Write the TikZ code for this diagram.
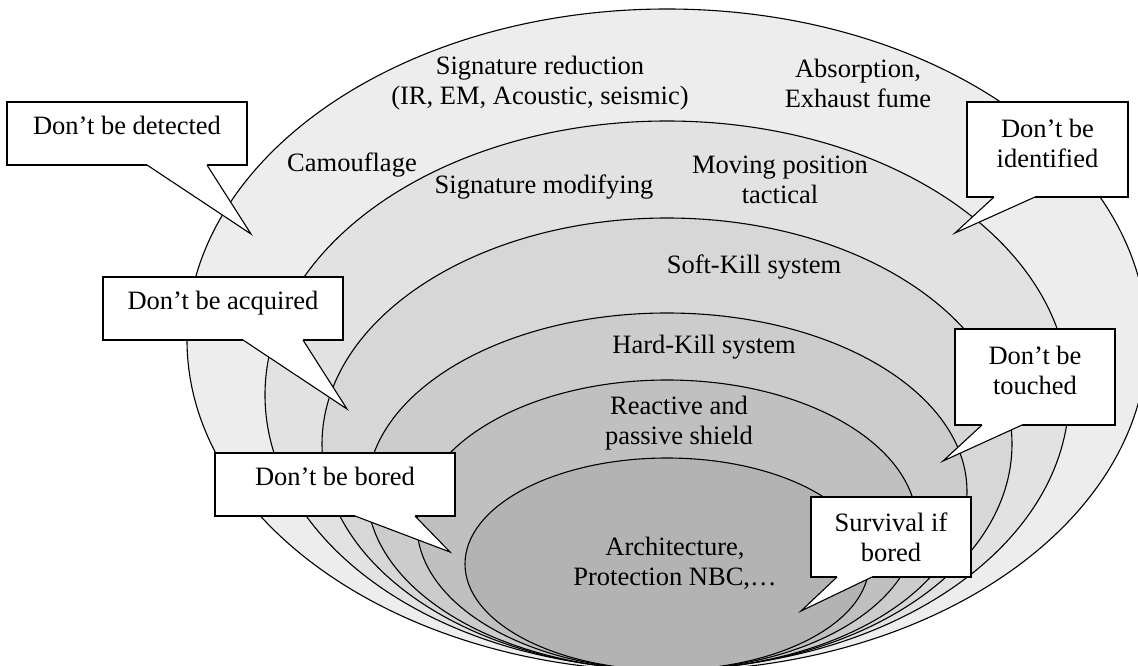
\documentclass[tikz,border=0pt]{standalone}
\usepackage{fontspec}
\setmainfont{Liberation Serif}
\definecolor{shellA}{RGB}{237,237,237}
\definecolor{shellB}{RGB}{226,226,226}
\definecolor{shellC}{RGB}{215,215,215}
\definecolor{shellD}{RGB}{204,204,204}
\definecolor{shellE}{RGB}{192,192,192}
\definecolor{shellF}{RGB}{179,179,179}
\newcommand\dropstrut[1]{\rule[-#1]{0pt}{#1}}
\begin{document}
\begin{tikzpicture}[x=1pt,y=-1pt,
  layer/.style={draw=black,line width=1.1pt},
  callbox/.style={draw=black,fill=white,line width=1.1pt,align=center,inner sep=0pt,outer sep=0pt},
  ptr/.style={draw=black,line width=1.1pt,line join=miter},
  every node/.append style={font=\fontsize{26.5}{30}\selectfont,align=center}]
\useasboundingbox (0,0) rectangle (1138,666);
\clip (0,0) rectangle (1138,666);
\fill [white] (0,0) rectangle (1138,666);
\draw [layer,fill=shellA] (667,340) ellipse [x radius=480pt,y radius=331pt];
\draw [layer,fill=shellB] (667,395) ellipse [x radius=402pt,y radius=274pt];
\draw [layer,fill=shellC] (667,444) ellipse [x radius=345pt,y radius=226pt];
\draw [layer,fill=shellD] (667,491.5) ellipse [x radius=300pt,y radius=178.5pt];
\draw [layer,fill=shellE] (667,525) ellipse [x radius=250pt,y radius=145pt];
\draw [layer,fill=shellF] (667,564) ellipse [x radius=202pt,y radius=106pt];
\node (sigred) at (540,83) {Signature reduction\\(IR, EM, Acoustic, seismic)};
\node (absorb) at (858,83) {Absorption,\\Exhaust fume};
\node (camo) at (352,165) {Camouflage};
\node (sigmod) at (544,187) {Signature modifying};
\node (moving) at (780,180) {Moving position\\tactical};
\node (softkill) at (754,267) {Soft-Kill system};
\node (hardkill) at (704,347) {Hard-Kill system};
\node (shield) at (679,423) {Reactive and\\passive shield};
\node (archi) at (675,563) {Architecture,\\Protection NBC,…};
\node [callbox,minimum width=240pt,minimum height=63pt] (detect) at (127,133.5) {Don’t be detected\dropstrut{16pt}};
\node [callbox,minimum width=240pt,minimum height=63pt] (acquire) at (223,308.5) {Don’t be acquired\dropstrut{16pt}};
\node [callbox,minimum width=240pt,minimum height=63pt] (bore) at (335,484.5) {Don’t be bored\dropstrut{16pt}};
\node [callbox,minimum width=161pt,minimum height=95pt] (identify) at (1047.5,149.5) {Don’t be\\identified\dropstrut{13pt}};
\node [callbox,minimum width=160pt,minimum height=96pt] (touch) at (1035,377) {Don’t be\\touched\dropstrut{13pt}};
\node [callbox,minimum width=160pt,minimum height=80pt] (survive) at (891,537) {Survival if\\bored};
\coordinate (detect tip) at (251,234);
\coordinate (acquire tip) at (347,409);
\coordinate (bore tip) at (450,552);
\coordinate (identify tip) at (955,233);
\coordinate (touch tip) at (943,461);
\coordinate (survive tip) at (801,611);
\fill [white] ([xshift=20pt]detect.south) -- (detect tip) -- ([xshift=80pt]detect.south) -- ([xshift=80pt,yshift=1.5pt]detect.south) -- ([xshift=20pt,yshift=1.5pt]detect.south) -- cycle;
\draw [ptr] ([xshift=20pt]detect.south) -- (detect tip) -- ([xshift=80pt]detect.south);
\fill [white] ([xshift=20pt]acquire.south) -- (acquire tip) -- ([xshift=80pt]acquire.south) -- ([xshift=80pt,yshift=1.5pt]acquire.south) -- ([xshift=20pt,yshift=1.5pt]acquire.south) -- cycle;
\draw [ptr] ([xshift=20pt]acquire.south) -- (acquire tip) -- ([xshift=80pt]acquire.south);
\fill [white] ([xshift=20pt]bore.south) -- (bore tip) -- ([xshift=80pt]bore.south) -- ([xshift=80pt,yshift=1.5pt]bore.south) -- ([xshift=20pt,yshift=1.5pt]bore.south) -- cycle;
\draw [ptr] ([xshift=20pt]bore.south) -- (bore tip) -- ([xshift=80pt]bore.south);
\fill [white] ([xshift=-53.5pt]identify.south) -- (identify tip) -- ([xshift=-12.5pt]identify.south) -- ([xshift=-12.5pt,yshift=1.5pt]identify.south) -- ([xshift=-53.5pt,yshift=1.5pt]identify.south) -- cycle;
\draw [ptr] ([xshift=-53.5pt]identify.south) -- (identify tip) -- ([xshift=-12.5pt]identify.south);
\fill [white] ([xshift=-53pt]touch.south) -- (touch tip) -- ([xshift=-13pt]touch.south) -- ([xshift=-13pt,yshift=1.5pt]touch.south) -- ([xshift=-53pt,yshift=1.5pt]touch.south) -- cycle;
\draw [ptr] ([xshift=-53pt]touch.south) -- (touch tip) -- ([xshift=-13pt]touch.south);
\fill [white] ([xshift=-54pt]survive.south) -- (survive tip) -- ([xshift=-19pt]survive.south) -- ([xshift=-19pt,yshift=1.5pt]survive.south) -- ([xshift=-54pt,yshift=1.5pt]survive.south) -- cycle;
\draw [ptr] ([xshift=-54pt]survive.south) -- (survive tip) -- ([xshift=-19pt]survive.south);
\end{tikzpicture}
\end{document}
